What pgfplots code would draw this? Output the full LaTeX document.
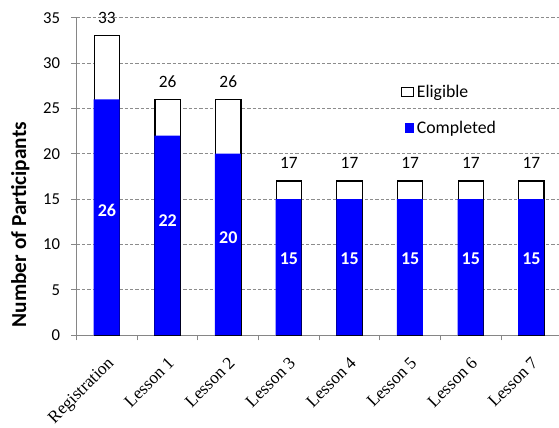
\documentclass[border=0pt]{standalone}
\usepackage{pgfplots}
\pgfplotsset{compat=1.18}
\usepackage{fontspec}
\setmainfont{Carlito}
\newfontfamily\tnr{Liberation Serif}
\definecolor{axgray}{HTML}{868686}
\definecolor{gridgray}{HTML}{8C8C8C}
\definecolor{barblue}{HTML}{0000FF}
\begin{document}
\begin{tikzpicture}
\begin{axis}[
  scale only axis,
  width=363.75pt, height=238pt,
  xmin=-0.5, xmax=7.5, ymin=0, ymax=35,
  ytick={0,5,...,35},
  xtick={-0.5,0.5,...,7.5},
  xticklabels={Registration,Lesson 1,Lesson 2,Lesson 3,Lesson 4,Lesson 5,Lesson 6,Lesson 7},
  x tick label as interval,
  axis x line*=bottom, axis y line*=left,
  axis line style={axgray, line width=0.8pt, -},
  tick style={axgray, line width=0.8pt},
  tick align=outside,
  major tick length=4pt,
  ymajorgrids,
  grid style={gridgray, dash pattern=on 2.5pt off 1.5pt, line width=0.6pt},
  /pgf/number format/assume math mode=true,
  yticklabel style={font=\fontsize{12.5}{14}\selectfont, xshift=-4.9pt},
  xticklabel style={font=\tnr\fontsize{13}{15}\selectfont, xshift=-0.5pt, yshift=-10pt, rotate=45, anchor=north east, inner sep=1pt},
  ylabel={\bfseries Number of Participants},
  ylabel style={at={(axis description cs:-0.116,0.348)}, anchor=center, font=\fontsize{16}{18}\selectfont},
  legend style={at={(axis description cs:0.669,0.798)}, anchor=north west, draw=none, fill=none,
    font=\fontsize{13.3}{15}\selectfont, row sep=12.5pt, inner sep=0pt, nodes={inner sep=2pt}},
  legend cell align=left,
]
\addplot[ybar, bar width=19pt, bar shift=0pt, draw=black, fill=white, line width=0.9pt,
  nodes near coords,
  every node near coord/.append style={font=\fontsize{13}{15}\selectfont, text=black, anchor=center, yshift=13.3pt},
  legend image code/.code={\draw[draw=black, fill=white, line width=0.6pt] (0pt,-3.7pt) rectangle (9pt,3.7pt);}]
  coordinates {(0,33) (1,26) (2,26) (3,17) (4,17) (5,17) (6,17) (7,17)};
\addlegendentry{Eligible}
\addplot[ybar, bar width=19.4pt, bar shift=-0.25pt, draw=none, fill=barblue,
  legend image code/.code={\fill[barblue] (2pt,-3.7pt) rectangle (9pt,3.7pt);}]
  coordinates {(0,26) (1,22) (2,20) (3,15) (4,15) (5,15) (6,15) (7,15)};
\addlegendentry{Completed}
\addplot[draw=none, forget plot, nodes near coords, point meta=explicit symbolic,
  every node near coord/.append style={font=\bfseries\fontsize{13.5}{15}\selectfont, text=white, anchor=center}]
  coordinates {(0,13.7)[26] (1,12.6)[22] (2,10.8)[20] (3,8.4)[15] (4,8.4)[15] (5,8.4)[15] (6,8.4)[15] (7,8.4)[15]};
\end{axis}
\pgfresetboundingbox
\path[use as bounding box] ([xshift=-57.5pt,yshift=-69pt]current axis.south west) rectangle ([xshift=-2.05pt,yshift=13.3pt]current axis.north east);
\end{tikzpicture}
\end{document}
